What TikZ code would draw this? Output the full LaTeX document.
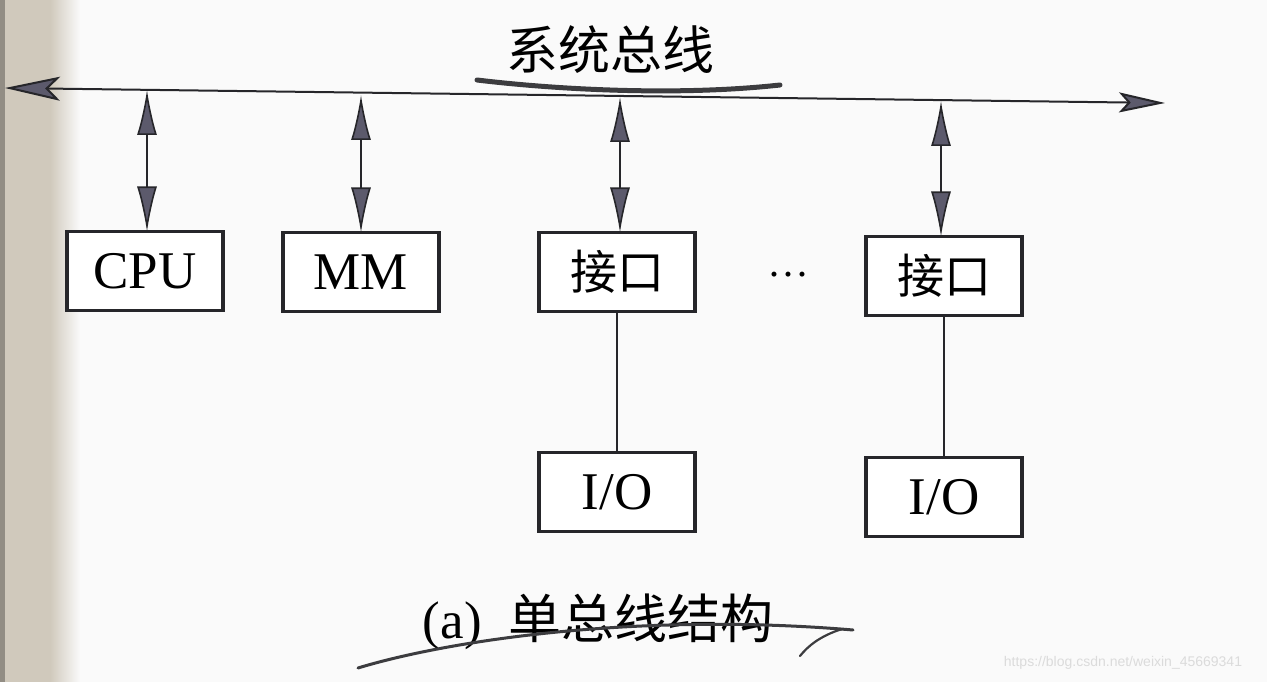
\documentclass[tikz,border=0pt]{standalone}
\usepackage{fontspec}
\setmainfont{Liberation Serif}
\newfontfamily\cjk{Noto Sans CJK SC}
\newfontfamily\wmfont{Liberation Sans}
\usetikzlibrary{arrows.meta}
\definecolor{headc}{RGB}{92,90,108}
\definecolor{inkc}{RGB}{38,38,42}
\definecolor{paper}{RGB}{250,250,250}
\definecolor{edgec}{RGB}{208,201,188}
\begin{document}
\begin{tikzpicture}[x=1pt,y=-1pt,
  box/.style={draw=inkc, line width=3.5pt, minimum width=156pt, minimum height=79pt,
    inner sep=0pt, outer sep=0pt, fill=white, font=\fontsize{53}{58}\selectfont},
  dbl/.style={line width=1.6pt, draw=inkc,
    {Latex[length=45pt,width=20pt,fill=headc]}-{Latex[length=45pt,width=20pt,fill=headc]}},
  link/.style={line width=1.6pt, draw=inkc},
  bus/.style={line width=2pt, draw=inkc,
    {Stealth[length=55pt,width=24pt,inset=12pt,fill=headc]}-{Stealth[length=46pt,width=20pt,inset=9pt,fill=headc]}},
  scrib/.style={draw=inkc!90, line cap=round, line join=round},
  lbl/.style={inner sep=0pt, font=\fontsize{50}{56}\selectfont}]
\useasboundingbox (0,0) rectangle (1267,682);
% paper and binding shadow
\fill[paper] (0,0) rectangle (1267,682);
\fill[edgec] (0,0) rectangle (50,682);
\shade[left color=edgec, right color=paper] (50,0) rectangle (80,682);
\fill[edgec!70!black] (0,0) rectangle (5,682);
% bus
\coordinate (busL) at (5,88);
\coordinate (busR) at (1165,103);
\draw[bus] (busL) -- (busR);
\node[lbl, font=\fontsize{52}{58}\selectfont\cjk] (title) at (610,50) {系统总线};
% boxes
\node[box] (cpu) at (145,271) {CPU};
\node[box] (mm) at (361,272) {MM};
\node[box, font=\fontsize{47}{52}\selectfont\cjk] (ifa) at (617,272) {接口};
\node[box, font=\fontsize{47}{52}\selectfont\cjk] (ifb) at (944,276) {接口};
\node[box] (ioa) at (617,492) {I/O};
\node[box] (iob) at (944,497) {I/O};
\node[lbl, font=\fontsize{42}{48}\selectfont] (dots) at (788,280) {···};
% bus taps
\coordinate (tcpu) at (147,90);
\coordinate (tmm) at (361,95);
\coordinate (tifa) at (620,97);
\coordinate (tifb) at (941,101);
\draw[dbl] (tcpu) -- (cpu.north -| tcpu);
\draw[dbl] (tmm) -- (mm.north);
\draw[dbl] (tifa) -- (ifa.north -| tifa);
\draw[dbl] (tifb) -- (ifb.north -| tifb);
\draw[link] (ifa.south) -- (ioa.north);
\draw[link] (ifb.south) -- (iob.north);
% caption
\node[lbl, font=\fontsize{53}{58}\selectfont] (cap) at (598,622) {(a)\hspace{0.5em}{\cjk 单总线结构}};
% pen marks
\draw[scrib, line width=5pt] (477,80) .. controls (560,90) and (680,96) .. (780,85);
\draw[scrib, line width=3pt] (358,668) .. controls (450,640) and (640,612) .. (853,630);
\draw[scrib, line width=2.2pt] (842,629) .. controls (820,636) and (808,646) .. (800,656);
% watermark
\node[inner sep=0pt, text=black!14, font=\wmfont\fontsize{14}{16}\selectfont] (wm) at (1123,663) {https://blog.csdn.net/weixin\_45669341};
\end{tikzpicture}
\end{document}
